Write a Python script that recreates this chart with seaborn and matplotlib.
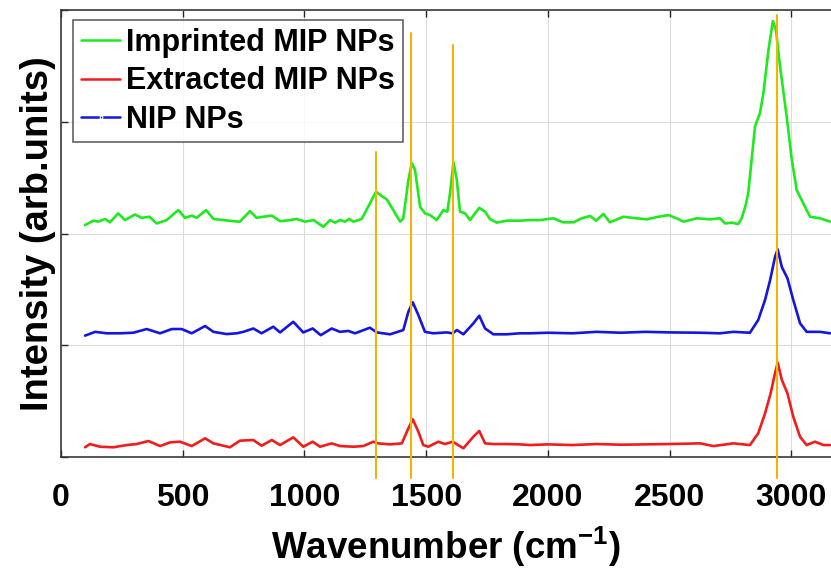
import numpy as np
import pandas as pd
import matplotlib
matplotlib.use("Agg")
import matplotlib.pyplot as plt
import seaborn as sns

# ---------------- data ----------------
wn_imprinted = [99, 133, 153, 181, 201, 235, 263, 304, 331, 363, 393, 434, 482, 509, 537, 557, 596, 626,
                667, 708, 735, 776, 804, 831, 866, 900, 941, 968, 1002, 1037, 1078, 1105, 1126, 1146,
                1167, 1184, 1201, 1235, 1262, 1294, 1317, 1338, 1365, 1393, 1406, 1427, 1441, 1454,
                1475, 1495, 1516, 1543, 1571, 1587, 1598, 1612, 1626, 1639, 1660, 1680, 1718, 1742,
                1762, 1790, 1831, 1886, 1927, 1968, 2022, 2063, 2105, 2139, 2173, 2198, 2228, 2255,
                2310, 2365, 2406, 2454, 2495, 2529, 2557, 2612, 2666, 2707, 2728, 2755, 2782, 2796,
                2812, 2823, 2851, 2871, 2885, 2906, 2924, 2937, 2954, 2981, 3002, 3022, 3049, 3077,
                3118, 3159]
int_imprinted = [2.076, 2.115, 2.106, 2.13, 2.10, 2.18, 2.12, 2.17, 2.14, 2.15, 2.09, 2.12, 2.21, 2.14,
                 2.16, 2.14, 2.21, 2.13, 2.12, 2.11, 2.106, 2.20, 2.14, 2.15, 2.16, 2.11, 2.12, 2.13,
                 2.106, 2.12, 2.06, 2.12, 2.097, 2.12, 2.106, 2.13, 2.106, 2.13, 2.24, 2.374, 2.336,
                 2.306, 2.21, 2.106, 2.136, 2.48, 2.63, 2.57, 2.24, 2.18, 2.165, 2.12, 2.21, 2.195,
                 2.36, 2.64, 2.48, 2.195, 2.18, 2.12, 2.23, 2.195, 2.13, 2.097, 2.115, 2.115, 2.12,
                 2.12, 2.136, 2.10, 2.10, 2.136, 2.157, 2.115, 2.175, 2.10, 2.15, 2.136, 2.127, 2.15,
                 2.165, 2.136, 2.106, 2.136, 2.127, 2.136, 2.09, 2.097, 2.085, 2.136, 2.25, 2.36,
                 2.96, 3.075, 3.25, 3.64, 3.90, 3.82, 3.49, 3.045, 2.66, 2.39, 2.27, 2.15, 2.136, 2.106]

wn_nip = [99, 140, 188, 242, 297, 352, 407, 455, 496, 537, 592, 626, 681, 722, 749, 790, 824, 872, 900,
          954, 995, 1034, 1067, 1112, 1146, 1180, 1208, 1269, 1297, 1352, 1406, 1427, 1445, 1468, 1495,
          1529, 1584, 1609, 1626, 1653, 1694, 1718, 1742, 1776, 1831, 1886, 1927, 2000, 2100, 2200,
          2300, 2400, 2500, 2625, 2707, 2762, 2830, 2864, 2892, 2913, 2933, 2944, 2961, 2984, 3008,
          3036, 3063, 3118, 3159]
int_nip = [1.086, 1.12, 1.107, 1.107, 1.112, 1.145, 1.107, 1.145, 1.145, 1.107, 1.172, 1.12, 1.10, 1.107,
           1.12, 1.15, 1.107, 1.166, 1.115, 1.21, 1.115, 1.15, 1.09, 1.15, 1.12, 1.128, 1.107, 1.157,
           1.115, 1.098, 1.136, 1.30, 1.384, 1.27, 1.12, 1.107, 1.115, 1.107, 1.136, 1.098, 1.196,
           1.264, 1.15, 1.098, 1.098, 1.107, 1.107, 1.112, 1.107, 1.12, 1.112, 1.12, 1.115, 1.112,
           1.107, 1.12, 1.112, 1.226, 1.405, 1.584, 1.79, 1.858, 1.70, 1.60, 1.405, 1.196, 1.12,
           1.12, 1.107]

wn_extracted = [99, 119, 160, 215, 270, 311, 359, 407, 448, 489, 537, 592, 626, 694, 735, 790, 824, 866,
                900, 954, 995, 1034, 1064, 1112, 1146, 1201, 1242, 1283, 1303, 1352, 1400, 1427, 1445,
                1468, 1488, 1509, 1550, 1577, 1609, 1653, 1694, 1718, 1742, 1776, 1831, 1886, 1927,
                2000, 2100, 2200, 2300, 2400, 2500, 2625, 2680, 2762, 2830, 2864, 2892, 2915, 2933,
                2944, 2961, 2984, 3008, 3036, 3063, 3097, 3132, 3159]
int_extracted = [0.087, 0.116, 0.092, 0.087, 0.107, 0.116, 0.143, 0.098, 0.131, 0.137, 0.098, 0.167,
                 0.122, 0.087, 0.146, 0.152, 0.101, 0.152, 0.107, 0.176, 0.092, 0.137, 0.092, 0.122,
                 0.098, 0.092, 0.098, 0.137, 0.122, 0.113, 0.122, 0.257, 0.337, 0.226, 0.107, 0.092,
                 0.137, 0.116, 0.137, 0.078, 0.182, 0.233, 0.122, 0.116, 0.116, 0.113, 0.107, 0.113,
                 0.107, 0.116, 0.11, 0.113, 0.116, 0.122, 0.098, 0.122, 0.107, 0.212, 0.39, 0.57, 0.75,
                 0.844, 0.69, 0.57, 0.36, 0.18, 0.107, 0.137, 0.107, 0.107]

series_names = ["Imprinted MIP NPs", "Extracted MIP NPs", "NIP NPs"]
series_colors = ["#1EEA1E", "#F21C1C", "#1515E0"]

marker_wn = [1295, 1436, 1612, 2941]
marker_top = [2.73, 3.79, 3.69, 3.955]
marker_bottom = -0.19

x_ticks = [0, 500, 1000, 1500, 2000, 2500, 3000]
y_ticks = [0, 1, 2, 3, 4]

df = pd.concat([
    pd.DataFrame({"wn": wn_imprinted, "I": int_imprinted, "s": series_names[0]}),
    pd.DataFrame({"wn": wn_extracted, "I": int_extracted, "s": series_names[1]}),
    pd.DataFrame({"wn": wn_nip, "I": int_nip, "s": series_names[2]}),
], ignore_index=True)

# ---------------- figure ----------------
sns.set_theme(style="white")
plt.rcParams["font.family"] = ["Liberation Sans", "DejaVu Sans"]
plt.rcParams["mathtext.fontset"] = "custom"
plt.rcParams["mathtext.rm"] = "Liberation Sans:bold"
plt.rcParams["mathtext.bf"] = "Liberation Sans:bold"
plt.rcParams["mathtext.it"] = "Liberation Sans:bold"
plt.rcParams["text.color"] = "black"

fig = plt.figure(figsize=(8.31, 5.69), dpi=100)
ax = fig.add_axes([61 / 831, 1 - 457 / 569, 1 - 61 / 831, (457 - 10) / 569])

sns.lineplot(data=df, x="wn", y="I", hue="s", hue_order=series_names,
             palette=dict(zip(series_names, series_colors)), estimator=None,
             linewidth=1.9, ax=ax, legend=True)

for xw, top in zip(marker_wn, marker_top):
    ax.plot([xw, xw], [marker_bottom, top], color="#F5B400", lw=1.5, clip_on=False, zorder=5)

ax.set_xlim(0, 3163)
ax.set_ylim(0, 4)
ax.set_xticks(x_ticks)
ax.set_yticks(y_ticks)
ax.set_yticklabels([])
ax.grid(True, color="#DCDCDC", lw=0.8)
ax.set_axisbelow(True)
ax.tick_params(axis="both", direction="in", length=5, color="#262626", width=1,
               top=True, left=True, bottom=True, right=False)
ax.tick_params(axis="x", pad=19, labelsize=23, labelcolor="black")
for lab in ax.get_xticklabels():
    lab.set_fontweight("bold")

for side in ["left", "bottom", "top"]:
    ax.spines[side].set_color("#3a3a3a")
    ax.spines[side].set_linewidth(1.2)
ax.spines["right"].set_visible(False)

ax.set_xlabel("Wavenumber (cm$^{-1}$)", fontsize=26.5,
              fontweight="bold", color="black", labelpad=8)
ax.set_ylabel("Intensity (arb.units)", fontsize=27.5,
              fontweight="bold", color="black", labelpad=0)

leg = ax.legend(loc="upper left", bbox_to_anchor=(12 / 770, (457 - 20) / 447),
                borderaxespad=0, frameon=True, fancybox=False, handlelength=1.3,
                handletextpad=0.2, labelspacing=0.28, borderpad=0.25,
                prop={"weight": "bold", "size": 22})
leg.get_frame().set_edgecolor("#3a3a3a")
leg.get_frame().set_linewidth(1.2)
for t in leg.get_texts():
    t.set_color("black")
for h in leg.get_lines():
    h.set_linewidth(1.8)
leg.get_lines()[2].set_marker(".")
leg.get_lines()[2].set_markersize(4)
leg.get_lines()[2].set_markevery([1])

fig.savefig("out.png", dpi=100)
